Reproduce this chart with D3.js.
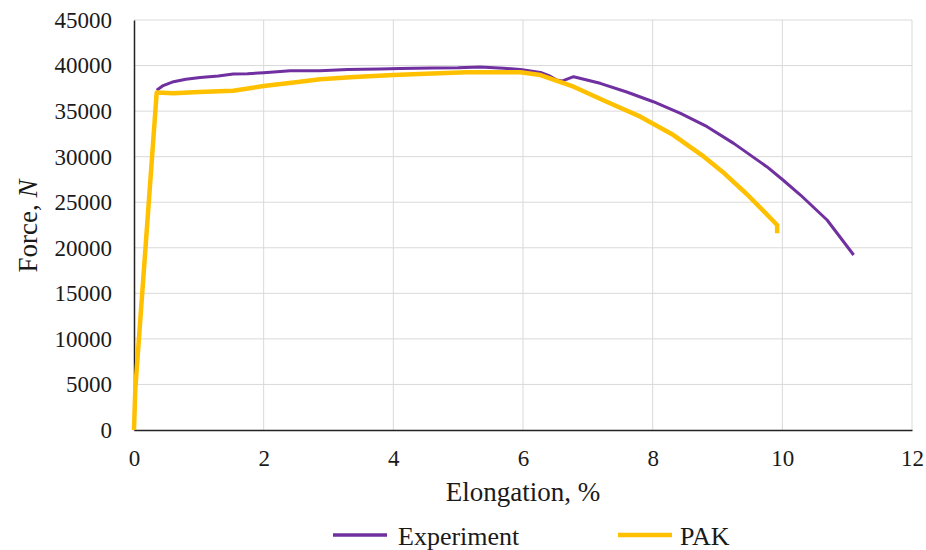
<!DOCTYPE html>
<html>
<head>
    <meta charset="utf-8">
    <title></title>
    <style type="text/css">
        html, body { margin: 0; padding: 0; background: #fff; }
    </style>
</head>
<body>
<svg id="svg" width="926" height="550"></svg>

<script src="https://cdn.jsdelivr.net/npm/d3@7/dist/d3.min.js"></script>
<script type="text/javascript">
    // elongation %, force N
    var expX = [0.35, 0.45, 0.61, 0.8, 1.02, 1.3, 1.53, 1.75, 2.0, 2.41, 2.87, 3.3, 3.8, 4.1, 4.6, 5.0, 5.34, 5.7, 5.96, 6.27, 6.4, 6.52, 6.6, 6.78, 7.19, 7.6, 8.01, 8.43, 8.84, 9.25, 9.76, 10.01, 10.28, 10.69, 11.1];
    var expY = [37300, 37800, 38230, 38500, 38700, 38850, 39070, 39100, 39220, 39440, 39440, 39560, 39620, 39690, 39720, 39750, 39850, 39700, 39580, 39250, 38900, 38410, 38300, 38780, 38050, 37100, 36030, 34760, 33290, 31460, 28900, 27440, 25790, 23050, 19210];

    var pakX = [0, 0.02, 0.35, 0.61, 1.0, 1.53, 2.0, 2.56, 2.87, 3.4, 4.0, 4.5, 5.13, 5.96, 6.27, 6.78, 7.29, 7.81, 8.32, 8.79, 9.1, 9.45, 9.7, 9.92, 9.92];
    var pakY = [0, 4500, 37030, 36950, 37100, 37240, 37760, 38230, 38490, 38750, 38960, 39100, 39260, 39260, 38960, 37680, 36030, 34390, 32370, 30000, 28200, 25900, 24100, 22500, 21590];

    var xTicks = [0, 2, 4, 6, 8, 10, 12];
    var yTicks = [0, 5000, 10000, 15000, 20000, 25000, 30000, 35000, 40000, 45000];
    var seriesNames = ['Experiment', 'PAK'];
    var seriesColors = ['#7030a0', '#ffc000'];

    var font = 'Liberation Serif, Times New Roman, serif';
    var svg = d3.select('#svg');
    var mLeft = 134, mRight = 912, mTop = 20, mBottom = 430;

    var x = d3.scaleLinear().domain([0, 12]).range([mLeft, mRight]);
    var y = d3.scaleLinear().domain([0, 45000]).range([mBottom, mTop]);

    // gridlines
    svg.append('g')
        .selectAll('line')
        .data(xTicks.slice(1))
        .enter().append('line')
        .attr('x1', d => x(d)).attr('x2', d => x(d))
        .attr('y1', mTop).attr('y2', mBottom)
        .attr('stroke', '#d9d9d9').attr('stroke-width', 1);
    svg.append('g')
        .selectAll('line')
        .data(yTicks.slice(1))
        .enter().append('line')
        .attr('x1', mLeft).attr('x2', mRight)
        .attr('y1', d => y(d)).attr('y2', d => y(d))
        .attr('stroke', '#d9d9d9').attr('stroke-width', 1);

    // axes
    var xAxis = svg.append('g')
        .attr('transform', 'translate(0,' + mBottom + ')')
        .call(d3.axisBottom(x).tickValues(xTicks).tickSize(0).tickPadding(20));
    var yAxis = svg.append('g')
        .attr('transform', 'translate(' + mLeft + ',0)')
        .call(d3.axisLeft(y).tickValues(yTicks).tickSize(0).tickPadding(22).tickFormat(d3.format('d')));
    [xAxis, yAxis].forEach(function (a) {
        a.attr('font-family', font).attr('font-size', 23);
        a.select('.domain').attr('stroke', '#222').attr('stroke-width', 1.5);
        a.selectAll('text').attr('fill', '#1a1a1a');
    });

    // lines
    var line = d3.line().x(d => x(d[0])).y(d => y(d[1]));
    var expData = expX.map((v, i) => [v, expY[i]]);
    var pakData = pakX.map((v, i) => [v, pakY[i]]);

    svg.append('path')
        .datum(expData)
        .attr('d', line)
        .attr('fill', 'none')
        .attr('stroke', seriesColors[0])
        .attr('stroke-width', 3)
        .attr('stroke-linejoin', 'round');
    svg.append('path')
        .datum(pakData)
        .attr('d', line)
        .attr('fill', 'none')
        .attr('stroke', seriesColors[1])
        .attr('stroke-width', 4.5)
        .attr('stroke-linejoin', 'round');

    // axis titles
    svg.append('text')
        .attr('x', 523)
        .attr('y', 501)
        .attr('text-anchor', 'middle')
        .attr('font-family', font)
        .attr('font-size', 27)
        .attr('fill', '#1a1a1a')
        .text('Elongation, %');

    var yt = svg.append('text')
        .attr('transform', 'translate(37,226) rotate(-90)')
        .attr('text-anchor', 'middle')
        .attr('font-family', font)
        .attr('font-size', 27)
        .attr('fill', '#1a1a1a');
    yt.append('tspan').text('Force, ');
    yt.append('tspan').attr('font-style', 'italic').text('N');

    // legend
    var lg = svg.append('g');
    var legX = [333, 618];
    seriesNames.forEach(function (n, i) {
        lg.append('line')
            .attr('x1', legX[i]).attr('x2', legX[i] + 54)
            .attr('y1', 535).attr('y2', 535)
            .attr('stroke', seriesColors[i])
            .attr('stroke-width', i == 0 ? 3.5 : 4.5);
        lg.append('text')
            .attr('x', legX[i] + (i == 0 ? 65 : 62))
            .attr('y', 545)
            .attr('font-family', font)
            .attr('font-size', 26)
            .attr('fill', '#1a1a1a')
            .text(n);
    });
</script>
</body>
</html>
